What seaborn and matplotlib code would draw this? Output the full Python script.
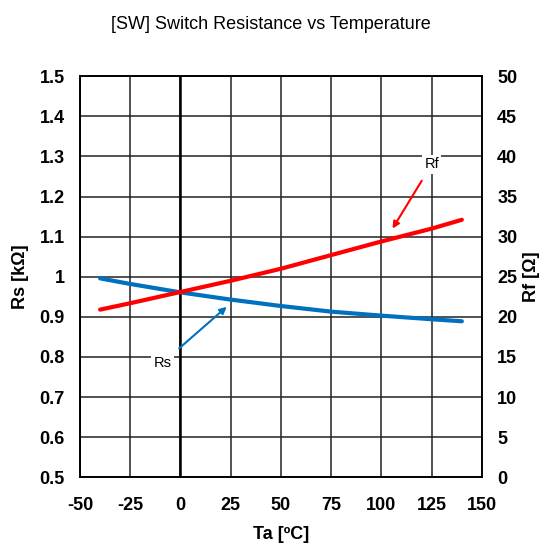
import matplotlib
matplotlib.use("Agg")
import matplotlib.pyplot as plt
import seaborn as sns
import pandas as pd

# Values
temp = [-40, -25, 0, 25, 50, 75, 100, 125, 140]
rs_kohm = [0.996, 0.982, 0.961, 0.943, 0.927, 0.913, 0.903, 0.894, 0.889]
rf_ohm = [20.9, 21.7, 23.1, 24.5, 26.0, 27.7, 29.4, 31.0, 32.1]

x_ticks = [-50, -25, 0, 25, 50, 75, 100, 125, 150]
rs_ticks = [0.5, 0.6, 0.7, 0.8, 0.9, 1.0, 1.1, 1.2, 1.3, 1.4, 1.5]
rs_tick_labels = ["0.5", "0.6", "0.7", "0.8", "0.9", "1", "1.1", "1.2", "1.3", "1.4", "1.5"]
rf_ticks = [0, 5, 10, 15, 20, 25, 30, 35, 40, 45, 50]

df = pd.DataFrame({"Ta": temp, "Rs": rs_kohm, "Rf": rf_ohm})

sns.set_theme(style="white")
plt.rcParams["font.family"] = ["Liberation Sans", "DejaVu Sans"]
plt.rcParams["axes.unicode_minus"] = False
plt.rcParams["text.color"] = "black"
plt.rcParams["axes.labelcolor"] = "black"
plt.rcParams["xtick.color"] = "black"
plt.rcParams["ytick.color"] = "black"

fig = plt.figure(figsize=(5.42, 5.48), dpi=100)
ax = fig.add_axes([0.1476, 0.129, 0.7416, 0.732])
ax2 = ax.twinx()

ax.set_xlim(-50, 150)
ax.set_ylim(0.5, 1.5)
ax.set_xticks(x_ticks)
ax.set_yticks(rs_ticks)
ax.set_yticklabels(rs_tick_labels)
ax.grid(True, color="#222222", linewidth=1.1)
ax.axvline(0, color="black", linewidth=1.8, zorder=1.5)
ax.set_axisbelow(True)

sns.lineplot(data=df, x="Ta", y="Rs", ax=ax, color="#0070C0", linewidth=3.0, zorder=3)
sns.lineplot(data=df, x="Ta", y="Rf", ax=ax2, color="#FF0000", linewidth=3.0, zorder=3)

ax2.set_ylim(0, 50)
ax2.set_yticks(rf_ticks)

for a in (ax, ax2):
    for s in a.spines.values():
        s.set_color("black")
        s.set_linewidth(1.2)
    a.tick_params(axis="y", length=0, pad=11, labelsize=13)
    a.tick_params(axis="x", length=0, pad=14, labelsize=13)
    for lbl in a.get_xticklabels() + a.get_yticklabels():
        lbl.set_fontweight("bold")

ax.set_xlabel("Ta [ºC]", fontsize=13, fontweight="bold", va="center")
ax.set_ylabel("Rs [kΩ]", fontsize=13, fontweight="bold", va="center")
ax2.set_ylabel("Rf [Ω]", fontsize=13, fontweight="bold", va="center")
ax.xaxis.set_label_coords(0.5, -0.142)
ax.yaxis.set_label_coords(-0.149, 0.5)
ax2.yaxis.set_label_coords(1.124, 0.5)

# Annotations with arrows
ax.annotate("Rs", xy=(23, 0.925), xytext=(-9, 0.785), fontsize=10.5,
            ha="center", va="center", zorder=5,
            bbox=dict(boxstyle="square,pad=0.15", fc="white", ec="none"),
            arrowprops=dict(arrowstyle="-|>", color="#0070C0", lw=1.5,
                            mutation_scale=10, shrinkA=6, shrinkB=0))
ax2.annotate("Rf", xy=(105.5, 31.0), xytext=(125, 39.0), fontsize=10.5,
             ha="center", va="center", zorder=5,
             bbox=dict(boxstyle="square,pad=0.15", fc="white", ec="none"),
             arrowprops=dict(arrowstyle="-|>", color="#FF0000", lw=1.5,
                             mutation_scale=10, shrinkA=6, shrinkB=0))

fig.suptitle("[SW] Switch Resistance vs Temperature", fontsize=13, y=0.97)

fig.savefig("out.png", dpi=100)
